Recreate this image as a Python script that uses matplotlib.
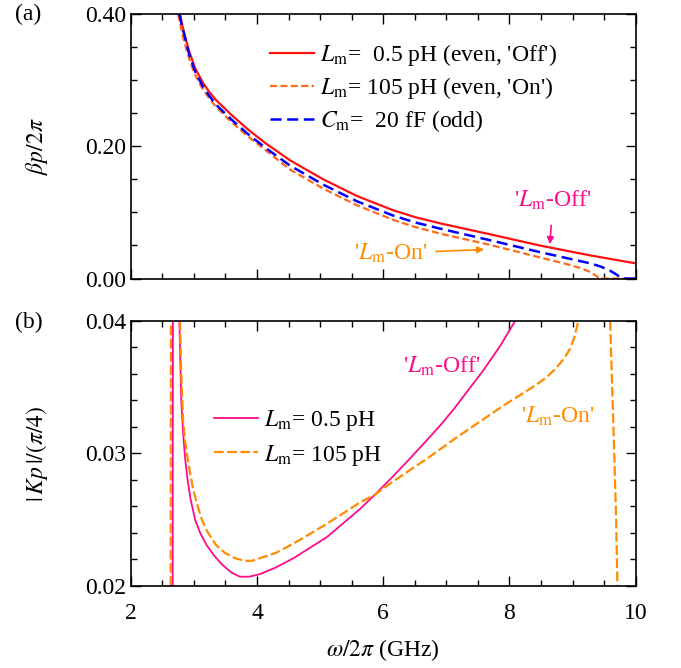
import numpy as np
import matplotlib
matplotlib.use('Agg')
import matplotlib.pyplot as plt
from matplotlib.ticker import MultipleLocator, FormatStrFormatter

plt.rcParams['font.family'] = 'serif'
plt.rcParams['font.serif'] = ['Liberation Serif', 'DejaVu Serif']
plt.rcParams['mathtext.fontset'] = 'stix'
plt.rcParams['font.size'] = 17
plt.rcParams['lines.scale_dashes'] = False

# panel (a): beta*p/2pi vs frequency (GHz)
f_off = [2.78, 2.82, 2.85, 2.92, 3.02, 3.15, 3.25, 3.35, 3.60, 3.85, 4.13, 4.52, 5.05, 5.58, 6.15, 6.50, 6.90, 7.69, 8.48, 9.28, 10.0]
beta_off = [0.400, 0.382, 0.370, 0.345, 0.318, 0.295, 0.2815, 0.270, 0.247, 0.226, 0.205, 0.179, 0.150, 0.125, 0.1035, 0.093, 0.0835, 0.067, 0.050, 0.035, 0.023]

f_on = [2.75, 2.79, 2.82, 2.90, 3.00, 3.13, 3.23, 3.33, 3.58, 3.83, 4.11, 4.52, 5.05, 5.58, 6.15, 6.50, 6.90, 7.69, 8.48, 8.90, 9.12, 9.28, 9.36, 9.41, 9.43, 10.0]
beta_on = [0.400, 0.382, 0.368, 0.340, 0.312, 0.288, 0.2745, 0.262, 0.238, 0.217, 0.196, 0.165, 0.136, 0.111, 0.089, 0.078, 0.068, 0.051, 0.032, 0.022, 0.016, 0.010, 0.005, 0.0015, 0.000, 0.000]

f_odd = [2.77, 2.81, 2.85, 2.92, 3.02, 3.15, 3.25, 3.35, 3.60, 3.85, 4.13, 4.52, 5.05, 5.58, 6.15, 6.50, 6.90, 7.69, 8.48, 9.28, 9.45, 9.59, 9.68, 9.74, 9.77, 9.79, 10.0]
beta_odd = [0.400, 0.382, 0.368, 0.341, 0.313, 0.289, 0.2755, 0.263, 0.240, 0.219, 0.198, 0.171, 0.142, 0.117, 0.0955, 0.085, 0.0755, 0.058, 0.040, 0.023, 0.018, 0.012, 0.007, 0.003, 0.001, 0.000, 0.000]

# panel (b): |Kp|/(pi/4)
f_k_off_left = [2.664, 2.668]
k_off_left = [0.020, 0.040]
f_k_off = [2.77, 2.785, 2.80, 2.83, 2.86, 2.90, 2.95, 3.02, 3.10, 3.20, 3.32, 3.45, 3.60, 3.73, 3.88, 4.05, 4.30, 4.58,
           5.11, 5.63, 5.87, 6.16, 6.40, 6.69, 6.90, 7.11, 7.35, 7.59, 7.85, 8.09]
k_off = [0.0400, 0.0370, 0.0340, 0.0315, 0.0297, 0.0280, 0.0265, 0.0250, 0.0240, 0.0231, 0.0223, 0.0216, 0.0210, 0.0207, 0.0207, 0.0209, 0.0214, 0.0221,
         0.0237, 0.0258, 0.0269, 0.0283, 0.0295, 0.0310, 0.0321, 0.0333, 0.0348, 0.0363, 0.0381, 0.0400]

f_k_on_left = [2.632, 2.636]
k_on_left = [0.020, 0.040]
f_k_on = [2.78, 2.80, 2.83, 2.86, 2.89, 2.93, 2.98, 3.05, 3.12, 3.20, 3.35, 3.49, 3.65, 3.80, 3.92, 4.05, 4.30, 4.58,
          5.11, 5.63, 5.87, 6.16, 6.69, 7.19, 7.90, 8.20, 8.43, 8.60, 8.75, 8.87, 8.96, 9.03, 9.09]
k_on = [0.0400, 0.0360, 0.0325, 0.0310, 0.0300, 0.0288, 0.0275, 0.0262, 0.0251, 0.0242, 0.0231, 0.0225, 0.0221, 0.0219, 0.0219, 0.0221, 0.0225, 0.0232,
        0.0247, 0.0263, 0.0269, 0.0279, 0.0296, 0.0313, 0.0336, 0.0345, 0.0352, 0.0358, 0.0365, 0.0372, 0.0379, 0.0388, 0.0400]
f_k_on_right = [9.596, 9.62, 9.66, 9.69, 9.71]
k_on_right = [0.040, 0.036, 0.030, 0.025, 0.020]

red = '#ff1010'
orange_a = '#ff6a1a'
orange_b = '#ff8c00'
blue = '#0000ff'
pink = '#ff0a8a'

fig = plt.figure(figsize=(6.81, 6.68), dpi=100)
ax1 = fig.add_axes([0.192, 0.583, 0.7415, 0.396])
ax2 = fig.add_axes([0.192, 0.1228, 0.7415, 0.3967])

ax1.plot(f_off, beta_off, color=red, lw=1.6, label=r"$L_\mathrm{m}$=  0.5 pH (even, 'Off')")
ax1.plot(f_on, beta_on, color=orange_a, lw=1.6, dashes=(5, 2.5), label=r"$L_\mathrm{m}$= 105 pH (even, 'On')")
ax1.plot(f_odd, beta_odd, color=blue, lw=1.8, dashes=(8, 4), label=r"$C_\mathrm{m}$=  20 fF (odd)")

ax2.plot(f_k_off_left, k_off_left, color=pink, lw=1.3)
ax2.plot(f_k_off, k_off, color=pink, lw=1.3, label=r"$L_\mathrm{m}$= 0.5 pH")
ax2.plot(f_k_on_left, k_on_left, color=orange_b, lw=1.6, dashes=(7, 2.5))
ax2.plot(f_k_on, k_on, color=orange_b, lw=1.6, dashes=(7, 2.5), label=r"$L_\mathrm{m}$= 105 pH")
ax2.plot(f_k_on_right, k_on_right, color=orange_b, lw=1.6, dashes=(7, 2.5))

ax1.set_xlim(2, 10)
ax1.set_ylim(0, 0.4)
ax2.set_xlim(2, 10)
ax2.set_ylim(0.02, 0.04)

for ax in (ax1, ax2):
    ax.xaxis.set_major_locator(MultipleLocator(2))
    ax.xaxis.set_minor_locator(MultipleLocator(0.5))
    ax.tick_params(which='both', direction='in', top=True, right=True, width=1.0)
    ax.tick_params(which='major', length=7)
    ax.tick_params(which='minor', length=4)
    for s in ax.spines.values():
        s.set_linewidth(1.2)

ax1.yaxis.set_major_locator(MultipleLocator(0.2))
ax1.yaxis.set_minor_locator(MultipleLocator(0.05))
ax1.yaxis.set_major_formatter(FormatStrFormatter('%.2f'))
ax1.tick_params(labelbottom=False)

ax2.yaxis.set_major_locator(MultipleLocator(0.01))
ax2.yaxis.set_minor_locator(MultipleLocator(0.002))
ax2.yaxis.set_major_formatter(FormatStrFormatter('%.2f'))
ax2.tick_params(axis='x', pad=12)

ax1.set_ylabel(r'$\beta p/2\pi$')
ax1.yaxis.set_label_coords(-0.16, 0.5)
ax2.set_ylabel(r'$|\,Kp\,|/(\pi/4)$')
ax2.yaxis.set_label_coords(-0.16, 0.5)
ax2.set_xlabel(r'$\omega/2\pi$ (GHz)', labelpad=10)

ax1.legend(loc='upper left', bbox_to_anchor=(0.276, 0.895), frameon=False,
           borderpad=0, borderaxespad=0, handlelength=1.85, handletextpad=0.27,
           labelspacing=0.30, fontsize=17)
ax2.legend(loc='upper left', bbox_to_anchor=(0.165, 0.672), frameon=False,
           borderpad=0, borderaxespad=0, handlelength=1.85, handletextpad=0.27,
           labelspacing=0.41, fontsize=17)

ax1.annotate(r"'$L_\mathrm{m}$-Off'", xy=(8.64, 0.052), xytext=(8.69, 0.119),
             color=pink, ha='center', va='center', fontsize=17,
             arrowprops=dict(arrowstyle='-|>', color=pink, lw=1.2, shrinkA=8, shrinkB=0,
                             mutation_scale=10))
ax1.annotate(r"'$L_\mathrm{m}$-On'", xy=(7.60, 0.044), xytext=(6.12, 0.038),
             color=orange_b, ha='center', va='center', fontsize=17,
             arrowprops=dict(arrowstyle='-|>', color=orange_b, lw=1.2, shrinkA=4, shrinkB=0,
                             mutation_scale=10))

ax2.text(6.92, 0.0366, r"'$L_\mathrm{m}$-Off'", color=pink, ha='center', va='center', fontsize=17)
ax2.text(8.76, 0.0328, r"'$L_\mathrm{m}$-On'", color=orange_b, ha='center', va='center', fontsize=17)

fig.text(0.022, 0.978, '(a)', ha='left', va='center', fontsize=17)
fig.text(0.022, 0.518, '(b)', ha='left', va='center', fontsize=17)

fig.savefig('out.png', dpi=100)
